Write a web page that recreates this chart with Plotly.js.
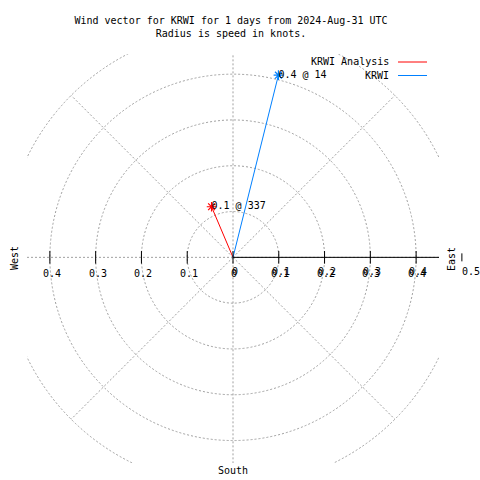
<!DOCTYPE html>
<html>
<head>
<meta charset="utf-8">
<script src="https://cdn.plot.ly/plotly-3.0.1.min.js"></script>
<style>html,body{margin:0;padding:0;background:#fff;}#chart{width:480px;height:480px;}</style>
</head>
<body>
<div id="chart"></div>
<script>
// ---- data ----
const seriesNames = ['KRWI Analysis', 'KRWI'];
const seriesColors = ['#ff0000', '#0080ff'];
const speeds = [0.12, 0.41];          // knots
const directions = [337, 14];          // degrees, clockwise from north
const gridRadii = [0.1, 0.2, 0.3, 0.4, 0.5];
const spokeAngles = [0, 45, 90, 135, 180, 225, 270, 315];
const leftTickVals = [-0.4, -0.3, -0.2, -0.1];
const leftTickText = ['0.4', '0.3', '0.2', '0.1'];
const rTickVals = [0, 0.1, 0.2, 0.3, 0.4, 0.5];
const rTickText = ['0', '0.1', '0.2', '0.3', '0.4', '0.5'];
const titleLines = ['Wind vector for KRWI for 1 days from 2024-Aug-31 UTC', 'Radius is speed in knots.'];

// ---- layout geometry (pixels) ----
const W = 480, H = 480;
const L = 27, R = 439, T = 54, B = 463;
const xr = [-0.45, 0.45], yr = [-0.449, 0.444];
const px2x = p => (p - L) / (R - L);
const py2y = p => (B - p) / (B - T);
const val2paperX = v => (v - xr[0]) / (xr[1] - xr[0]);
const val2paperY = v => (v - yr[0]) / (yr[1] - yr[0]);
const FONT = 'DejaVu Sans Mono, Liberation Mono, monospace';
const rad = d => d * Math.PI / 180;

// ---- traces ----
const traces = [];
speeds.forEach((s, i) => {
  const ex = s * Math.sin(rad(directions[i]));
  const ey = s * Math.cos(rad(directions[i]));
  traces.push({
    type: 'scatter', mode: 'lines', x: [0, ex], y: [0, ey],
    line: {color: seriesColors[i], width: 1}, showlegend: false, hoverinfo: 'skip'
  });
  traces.push({
    type: 'scatter', mode: 'markers', x: [ex], y: [ey],
    marker: {symbol: 'asterisk-open', size: 8, color: seriesColors[i],
      line: {color: seriesColors[i], width: 1.2}},
    showlegend: false, hoverinfo: 'skip', cliponaxis: false
  });
  traces.push({
    type: 'scatter', mode: 'text', x: [ex], y: [ey],
    text: [s.toFixed(1) + ' @ ' + directions[i]], textposition: 'middle right',
    textfont: {family: FONT, size: 10, color: '#000'},
    showlegend: false, hoverinfo: 'skip', cliponaxis: false
  });
});
const inTicks = leftTickVals.concat(rTickVals.filter(v => v <= xr[1]));
traces.push({
  type: 'scatter', mode: 'markers', x: inTicks, y: inTicks.map(() => 0),
  marker: {symbol: 'line-ns-open', size: 9, color: '#000', line: {color: '#000', width: 1}},
  showlegend: false, hoverinfo: 'skip', cliponaxis: false
});

// ---- shapes ----
const shapes = [];
const gridLine = {color: '#a0a0a0', width: 1, dash: '2px,2px'};
gridRadii.forEach(r => shapes.push({
  type: 'circle', xref: 'x', yref: 'y', x0: -r, x1: r, y0: -r, y1: r,
  line: gridLine, layer: 'below'
}));
const rMax = gridRadii[gridRadii.length - 1];
spokeAngles.forEach(a => shapes.push({
  type: 'line', xref: 'x', yref: 'y', x0: 0, y0: 0,
  x1: rMax * Math.sin(rad(a)), y1: rMax * Math.cos(rad(a)),
  line: gridLine, layer: 'below'
}));
shapes.push({type: 'line', xref: 'x', yref: 'y', x0: 0, y0: 0, x1: rMax, y1: 0,
  line: {color: '#000', width: 1}, layer: 'above'});
// r-axis ticks that fall outside the plotting area (e.g. 0.5)
rTickVals.filter(v => v > xr[1]).forEach(v => shapes.push({
  type: 'line', xref: 'paper', yref: 'paper',
  x0: val2paperX(v), x1: val2paperX(v),
  y0: val2paperY(0) + 4 / (B - T), y1: val2paperY(0) - 4 / (B - T),
  line: {color: '#000', width: 1}
}));

// legend lines
seriesNames.forEach((n, i) => shapes.push({
  type: 'line', xref: 'paper', yref: 'paper',
  x0: px2x(398), x1: px2x(427), y0: py2y(62 + 13.5 * i), y1: py2y(62 + 13.5 * i),
  line: {color: seriesColors[i], width: 1}
}));

// ---- annotations ----
const ann = [];
const tf = {family: FONT, size: 10, color: '#000'};
leftTickVals.forEach((v, i) => ann.push({
  xref: 'x', yref: 'y', x: v, y: 0, text: leftTickText[i], showarrow: false,
  xanchor: 'center', yanchor: 'middle', yshift: -16, xshift: 2, font: tf
}));
rTickVals.forEach((v, i) => {
  if (v <= xr[1]) {
    ann.push({xref: 'x', yref: 'y', x: v, y: 0, text: rTickText[i], showarrow: false,
      xanchor: 'center', yanchor: 'middle', yshift: -16, xshift: 1, font: tf});
    ann.push({xref: 'x', yref: 'y', x: v, y: 0, text: rTickText[i], showarrow: false,
      xanchor: 'center', yanchor: 'middle', yshift: -14, xshift: 2, font: tf});
  } else {
    ann.push({xref: 'paper', yref: 'paper', x: val2paperX(v), y: val2paperY(0),
      text: rTickText[i], showarrow: false,
      xanchor: 'center', yanchor: 'middle', yshift: -14, xshift: 9, font: tf});
  }
});
ann.push({xref: 'paper', yref: 'paper', x: px2x(14), y: py2y(258), text: 'West',
  textangle: -90, showarrow: false, xanchor: 'center', yanchor: 'middle', font: tf});
ann.push({xref: 'paper', yref: 'paper', x: px2x(451), y: py2y(259), text: 'East',
  textangle: -90, showarrow: false, xanchor: 'center', yanchor: 'middle', font: tf});
ann.push({xref: 'paper', yref: 'paper', x: px2x(233), y: py2y(470.5), text: 'South',
  showarrow: false, xanchor: 'center', yanchor: 'middle', font: tf});
seriesNames.forEach((n, i) => ann.push({
  xref: 'paper', yref: 'paper', x: px2x(391), y: py2y(62 + 13.5 * i), text: n,
  showarrow: false, xanchor: 'right', yanchor: 'middle', font: tf
}));

const layout = {
  width: W, height: H,
  margin: {l: L, r: W - R, t: T, b: H - B, pad: 0},
  paper_bgcolor: '#fff', plot_bgcolor: '#fff',
  font: tf,
  title: {text: titleLines.join('<br>'), x: 231 / W, xref: 'container', xanchor: 'center',
    y: 1 - 24 / H, yref: 'container', yanchor: 'top', font: tf},
  xaxis: {range: xr, visible: false, showgrid: false, zeroline: false, fixedrange: true},
  yaxis: {range: yr, visible: false, showgrid: false, zeroline: false, fixedrange: true},
  shapes: shapes, annotations: ann, showlegend: false
};
Plotly.newPlot('chart', traces, layout, {staticPlot: true, displayModeBar: false});
</script>
</body>
</html>
